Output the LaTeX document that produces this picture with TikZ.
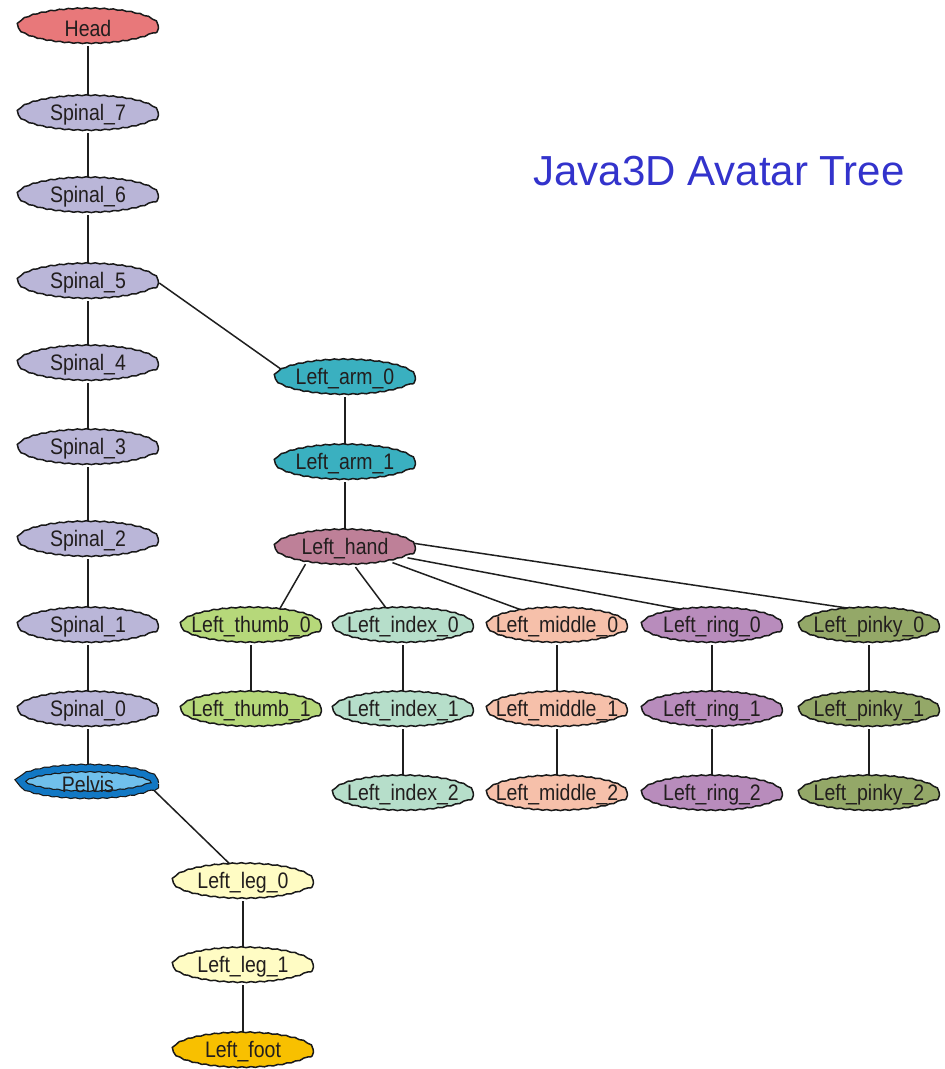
\documentclass[tikz,border=0pt]{standalone}
\usepackage{fontspec}
\usepackage{graphicx}
\setmainfont{Liberation Sans}
\usetikzlibrary{shapes.geometric, decorations.pathmorphing, backgrounds}
\definecolor{cHead}{RGB}{232,120,122}
\definecolor{cSpine}{RGB}{186,182,216}
\definecolor{cPelvO}{RGB}{18,120,196}
\definecolor{cPelvI}{RGB}{112,192,236}
\definecolor{cArm}{RGB}{58,176,192}
\definecolor{cHand}{RGB}{190,128,152}
\definecolor{cThumb}{RGB}{182,216,122}
\definecolor{cIndex}{RGB}{182,222,202}
\definecolor{cMiddle}{RGB}{246,192,170}
\definecolor{cRing}{RGB}{184,140,188}
\definecolor{cPinky}{RGB}{148,168,104}
\definecolor{cLeg}{RGB}{255,252,196}
\definecolor{cFoot}{RGB}{248,192,0}
\definecolor{cTitle}{RGB}{51,51,204}
\definecolor{cText}{RGB}{34,30,30}
\newcommand{\lbl}[1]{\makebox[0pt]{\scalebox{1}[1.15]{#1}}}
\begin{document}
\begin{tikzpicture}[x=1pt,y=-1pt,
  nd/.style={ellipse, draw=black!90, line width=1.5pt, minimum width=141pt, minimum height=35pt,
    inner sep=0pt, font=\fontsize{19.5}{21}\selectfont, text=cText,
    decorate, decoration={snake, segment length=9pt, amplitude=0.45pt}},
  edge/.style={draw=black!88, line width=1.5pt}]
\useasboundingbox (0,0) rectangle (945,1069);

\node[font=\fontsize{42}{46}\selectfont, text=cTitle] (title) at (719,171) {Java3D Avatar Tree};

% spine
\node[nd, fill=cHead] (head) at (88,28) {\lbl{Head}};
\node[nd, fill=cSpine] (s7) at (88,115) {\lbl{Spinal\_7}};
\node[nd, fill=cSpine] (s6) at (88,197) {\lbl{Spinal\_6}};
\node[nd, fill=cSpine] (s5) at (88,283) {\lbl{Spinal\_5}};
\node[nd, fill=cSpine] (s4) at (88,365) {\lbl{Spinal\_4}};
\node[nd, fill=cSpine] (s3) at (88,449) {\lbl{Spinal\_3}};
\node[nd, fill=cSpine] (s2) at (88,541) {\lbl{Spinal\_2}};
\node[nd, fill=cSpine] (s1) at (88,627) {\lbl{Spinal\_1}};
\node[nd, fill=cSpine] (s0) at (88,711) {\lbl{Spinal\_0}};
\node[nd, fill=cPelvI, double=cPelvO, double distance=6pt, line width=1.2pt,
  minimum width=134pt, minimum height=27pt] (pelvis) at (88,784) {\lbl{Pelvis}};

% leg
\node[nd, fill=cLeg] (leg0) at (243,883) {\lbl{Left\_leg\_0}};
\node[nd, fill=cLeg] (leg1) at (243,967) {\lbl{Left\_leg\_1}};
\node[nd, fill=cFoot] (foot) at (243,1052) {\lbl{Left\_foot}};

% arm
\node[nd, fill=cArm] (arm0) at (345,379) {\lbl{Left\_arm\_0}};
\node[nd, fill=cArm] (arm1) at (345,464) {\lbl{Left\_arm\_1}};
\node[nd, fill=cHand] (hand) at (345,549) {\lbl{Left\_hand}};

% fingers
\node[nd, fill=cThumb] (th0) at (251,627) {\lbl{Left\_thumb\_0}};
\node[nd, fill=cThumb] (th1) at (251,711) {\lbl{Left\_thumb\_1}};
\node[nd, fill=cIndex] (in0) at (403,627) {\lbl{Left\_index\_0}};
\node[nd, fill=cIndex] (in1) at (403,711) {\lbl{Left\_index\_1}};
\node[nd, fill=cIndex] (in2) at (403,795) {\lbl{Left\_index\_2}};
\node[nd, fill=cMiddle] (mi0) at (557,627) {\lbl{Left\_middle\_0}};
\node[nd, fill=cMiddle] (mi1) at (557,711) {\lbl{Left\_middle\_1}};
\node[nd, fill=cMiddle] (mi2) at (557,795) {\lbl{Left\_middle\_2}};
\node[nd, fill=cRing] (ri0) at (712,627) {\lbl{Left\_ring\_0}};
\node[nd, fill=cRing] (ri1) at (712,711) {\lbl{Left\_ring\_1}};
\node[nd, fill=cRing] (ri2) at (712,795) {\lbl{Left\_ring\_2}};
\node[nd, fill=cPinky] (pi0) at (869,627) {\lbl{Left\_pinky\_0}};
\node[nd, fill=cPinky] (pi1) at (869,711) {\lbl{Left\_pinky\_1}};
\node[nd, fill=cPinky] (pi2) at (869,795) {\lbl{Left\_pinky\_2}};

% edges
\begin{scope}[on background layer]
\fill[white] (0,0) rectangle (945,1069);
\draw[edge] (head) -- (s7);
\draw[edge] (s7) -- (s6);
\draw[edge] (s6) -- (s5);
\draw[edge] (s5) -- (s4);
\draw[edge] (s4) -- (s3);
\draw[edge] (s3) -- (s2);
\draw[edge] (s2) -- (s1);
\draw[edge] (s1) -- (s0);
\draw[edge] (s0) -- (pelvis);
\draw[edge] (pelvis.-4) -- (leg0.124);
\draw[edge] (leg0) -- (leg1);
\draw[edge] (leg1) -- (foot);
\draw[edge] (s5.0) -- (arm0.172);
\draw[edge] (arm0) -- (arm1);
\draw[edge] (arm1) -- (hand);
\draw[edge] (hand.201) -- (th0.31);
\draw[edge] (hand.300) -- (in0.132);
\draw[edge] (hand.344) -- (mi0.154);
\draw[edge] (hand.352.5) -- (ri0.148);
\draw[edge] (hand.5) -- (pi0.129);
\draw[edge] (th0) -- (th1);
\draw[edge] (in0) -- (in1);
\draw[edge] (in1) -- (in2);
\draw[edge] (mi0) -- (mi1);
\draw[edge] (mi1) -- (mi2);
\draw[edge] (ri0) -- (ri1);
\draw[edge] (ri1) -- (ri2);
\draw[edge] (pi0) -- (pi1);
\draw[edge] (pi1) -- (pi2);
\end{scope}
\end{tikzpicture}
\end{document}
